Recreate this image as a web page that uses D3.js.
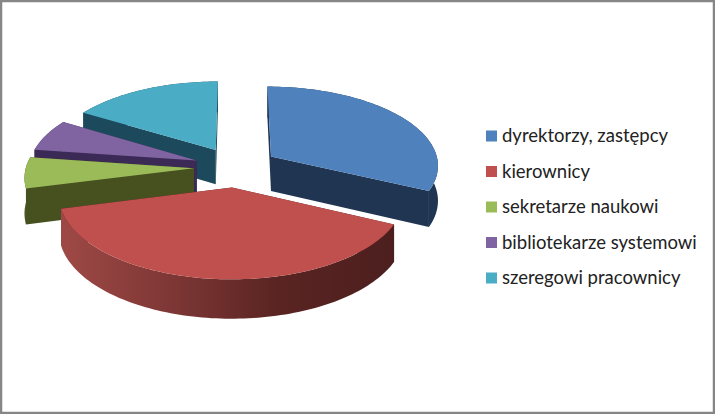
<!DOCTYPE html>
<html><head><meta charset="utf-8">
<script src="https://cdn.jsdelivr.net/npm/d3@7"></script>
<style>html,body{margin:0;padding:0;background:#fff}svg{display:block}</style>
</head><body><svg id="c" width="715" height="414"></svg>
<script>
const categories = ["dyrektorzy, zastępcy","kierownicy","sekretarze naukowi","bibliotekarze systemowi","szeregowi pracownicy"];
const values = [32, 39, 6.2, 6.4, 16.4];
const topColors = ["#4f81bd","#c0504d","#9bbb59","#8064a2","#4bacc6"];
const wallColors = ["#1f3552","#4f1f1e","#47501f","#3a2a55","#1c4a5c"];
const W=715,H=414;
const svg=d3.select("#c");
svg.append("rect").attr("x",1).attr("y",1).attr("width",W-2).attr("height",H-2).attr("fill","#fff").attr("stroke","#868686").attr("stroke-width",2.5);

const cx=236,cy=167,R=168,k=0.476,p=0.10,explode=42,depth=35;
const pieGen=d3.pie().sort(null).value(d=>d);
const arcs=pieGen(values);
const sx=d3.scaleLinear().domain([-1,1]).range([-R,R]);
const sy=d3.scaleLinear().domain([-1,1]).range([-R*k,R*k]);
function proj(g,h){const s=1+p*g[1];return [cx+sx(g[0])*s, cy+sy(g[1])*s+h*s];}
const line=d3.line();
function slice(a){
  const mid=(a.startAngle+a.endAngle)/2, e=explode/R;
  const o=[Math.sin(mid)*e,-Math.cos(mid)*e];
  const g=t=>[o[0]+Math.sin(t),o[1]-Math.cos(t)];
  const n=Math.max(4,Math.ceil((a.endAngle-a.startAngle)*40));
  const ts=d3.range(n+1).map(i=>a.startAngle+(a.endAngle-a.startAngle)*i/n);
  return {o,g,ts};
}
const order=[4,3,2,0,1];
const defs=svg.append("defs");
const grad=defs.append("linearGradient").attr("id","redWall").attr("gradientUnits","userSpaceOnUse").attr("x1",60).attr("x2",394).attr("y1",0).attr("y2",0);
[[0,"#9f4946"],[0.35,"#7c3634"],[0.65,"#5a2422"],[1,"#4c1f1e"]].forEach(s=>grad.append("stop").attr("offset",s[0]).attr("stop-color",s[1]));
order.forEach(i=>{
  const a=arcs[i],{o,g,ts}=slice(a),col=wallColors[i];
  const wall=i===1?"url(#redWall)":col;
  [a.startAngle,a.endAngle].forEach(t=>{
    const pts=[proj(o,0),proj(g(t),0),proj(g(t),depth),proj(o,depth)];
    svg.append("path").attr("d",line(pts)+"Z").attr("fill",col);
  });
  const up=ts.map(t=>proj(g(t),0)), dn=ts.map(t=>proj(g(t),depth)).reverse();
  svg.append("path").attr("d",line(up.concat(dn))+"Z").attr("fill",wall);
  svg.append("path").attr("d",line([proj(o,0)].concat(up))+"Z").attr("fill",topColors[i]);
});
const legY=d3.scalePoint().domain(categories).range([136,278]);
categories.forEach((c,i)=>{
  svg.append("rect").attr("x",486).attr("y",legY(c)-5.5).attr("width",11).attr("height",11).attr("fill",topColors[i]);
  svg.append("text").attr("x",502).attr("y",legY(c)+6).attr("font-family","Lato").attr("font-size",18.5).attr("fill","#222").text(c);
});
</script></body></html>
